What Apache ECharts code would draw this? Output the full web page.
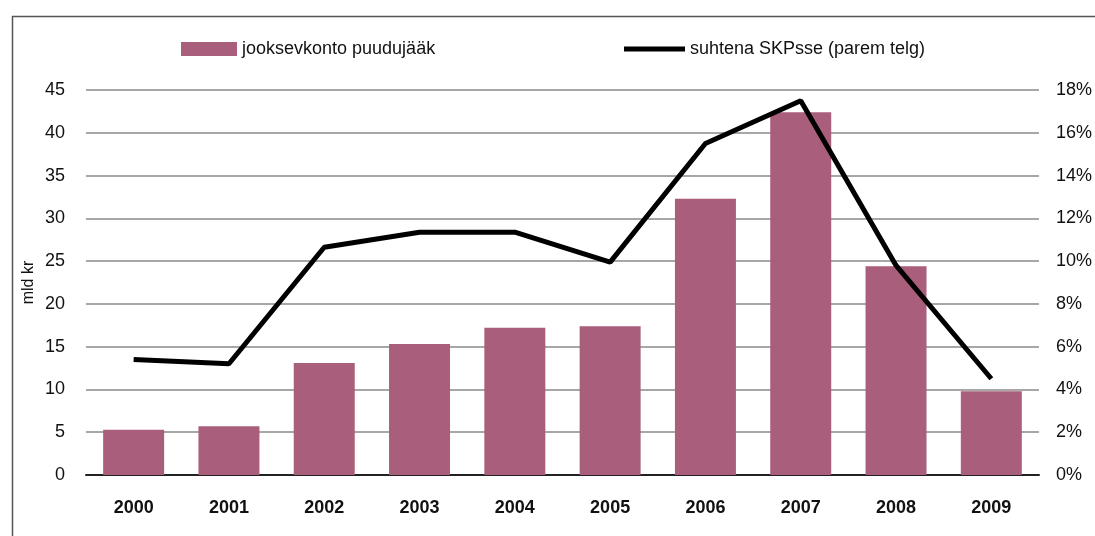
<!DOCTYPE html>
<html>
<head>
<meta charset="utf-8">
<script src="https://cdn.jsdelivr.net/npm/echarts@6/dist/echarts.min.js"></script>
<style>html,body{margin:0;padding:0;background:#fff;}#c{width:1095px;height:536px;}</style>
</head>
<body>
<div id="c"></div>
<script>
const categories = ['2000','2001','2002','2003','2004','2005','2006','2007','2008','2009'];
const deficit = [5.3, 5.7, 13.1, 15.3, 17.2, 17.4, 32.3, 42.4, 24.4, 9.8];
const shareOfGdp = [5.4, 5.2, 10.65, 11.35, 11.35, 9.95, 15.5, 17.5, 9.8, 4.5];
const leftTicks = [0, 45, 5];
const rightTicks = [0, 18, 2];
const barName = 'jooksevkonto puudujääk';
const lineName = 'suhtena SKPsse (parem telg)';

const font = '"Liberation Sans", Arial, Helvetica, sans-serif';
const chart = echarts.init(document.getElementById('c'), null, {renderer: 'canvas'});
chart.setOption({
  animation: false,
  textStyle: {fontFamily: font},
  graphic: [{
    type: 'rect', left: 10, top: 14, silent: true,
    shape: {x: 0, y: 0, width: 1100, height: 540},
    style: {fill: 'none', stroke: '#555', lineWidth: 1.5}
  }],
  legend: [
    {data: [{name: barName, icon: 'rect'}], left: 176, top: 35, itemWidth: 56, itemHeight: 14, itemGap: 10,
     textStyle: {fontSize: 18, color: '#111', fontFamily: font}},
    {data: [{name: lineName, icon: 'rect', itemStyle: {color: '#000'}}], left: 619, top: 35, itemWidth: 61, itemHeight: 5,
     textStyle: {fontSize: 18, color: '#111', fontFamily: font}}
  ],
  grid: {left: 86, right: 55, top: 90, bottom: 61},
  xAxis: {
    type: 'category', data: categories,
    axisLine: {lineStyle: {color: '#222', width: 2}},
    axisTick: {show: false},
    axisLabel: {fontSize: 18, fontWeight: 'bold', color: '#111', margin: 24, fontFamily: font}
  },
  yAxis: [
    {type: 'value', min: leftTicks[0], max: leftTicks[1], interval: leftTicks[2],
     name: 'mld kr', nameLocation: 'middle', nameGap: 49, nameRotate: 90, nameMoveOverlap: false,
     nameTextStyle: {fontSize: 16, color: '#111', fontFamily: font},
     axisLine: {show: false}, axisTick: {show: false},
     axisLabel: {fontSize: 18, color: '#111', margin: 21, fontFamily: font},
     splitLine: {lineStyle: {color: '#8a8a8a', width: 1.5}}},
    {type: 'value', min: rightTicks[0], max: rightTicks[1], interval: rightTicks[2],
     axisLine: {show: false}, axisTick: {show: false},
     axisLabel: {fontSize: 18, color: '#111', margin: 17, fontFamily: font, formatter: v => v + '%'},
     splitLine: {show: false}}
  ],
  series: [
    {name: barName, type: 'bar', data: deficit, barCategoryGap: '36%',
     itemStyle: {color: '#a95e7b'}},
    {name: lineName, type: 'line', yAxisIndex: 1, data: shareOfGdp, symbol: 'none',
     lineStyle: {color: '#000', width: 5}, itemStyle: {color: '#000'}, z: 5}
  ]
});
</script>
</body>
</html>
